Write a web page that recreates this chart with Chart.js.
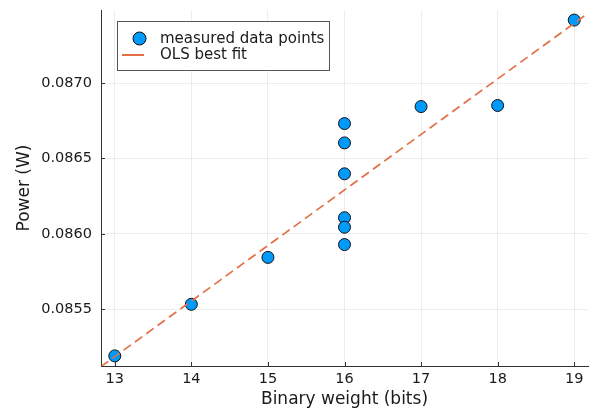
<!DOCTYPE html>
<html>
<head>
<meta charset="utf-8">
<script src="https://cdn.jsdelivr.net/npm/chart.js@4/dist/chart.umd.min.js"></script>
<style>
  html, body { margin: 0; padding: 0; background: #fff; }
  #wrap { width: 591px; height: 418px; }
</style>
</head>
<body>
<div id="wrap"><canvas id="c" width="591" height="418"></canvas></div>
<script>
// Measured power against binary weight
const bitWeights = [13, 14, 15, 16, 16, 16, 16, 16, 16, 17, 18, 19];
const powerWatts = [0.085191, 0.085533, 0.085844, 0.086731, 0.086603, 0.086398,
                    0.086107, 0.086044, 0.085929, 0.086844, 0.086851, 0.087417];

// Least-squares fit line, end points across the plotted x range
const fitX = [12.82, 19.18];
const fitY = [0.085120, 0.087462];

// Axis ranges and tick values
const xRange = [12.82, 19.18];
const yRange = [0.085124, 0.087484];
const xTicks = [13, 14, 15, 16, 17, 18, 19];
const yTicks = [0.0855, 0.0860, 0.0865, 0.0870];

const FONT = "'DejaVu Sans', sans-serif";
const TEXT = '#1a1a1a';
const AXIS = '#333333';
const BLUE = 'rgb(0,154,250)';
const ORANGE = 'rgb(227,111,71)';

// Short inward tick marks along the left and bottom axes
const innerTicks = {
  id: 'innerTicks',
  afterDraw(chart) {
    const { ctx, chartArea: a, scales: { x, y } } = chart;
    ctx.save();
    ctx.strokeStyle = AXIS;
    ctx.lineWidth = 1;
    ctx.beginPath();
    xTicks.forEach(v => {
      const px = Math.round(x.getPixelForValue(v)) + 0.5;
      ctx.moveTo(px, a.bottom);
      ctx.lineTo(px, a.bottom - 4);
    });
    yTicks.forEach(v => {
      const py = Math.round(y.getPixelForValue(v)) + 0.5;
      ctx.moveTo(a.left, py);
      ctx.lineTo(a.left + 4, py);
    });
    ctx.stroke();
    ctx.restore();
  }
};

// Framed legend in the upper-left corner of the plot area
const boxLegend = {
  id: 'boxLegend',
  afterDraw(chart) {
    const { ctx, chartArea: a } = chart;
    const ds = chart.data.datasets;
    const bx = a.left + 16.5, by = 21.5, bw = 212, bh = 49;
    ctx.save();
    ctx.fillStyle = '#ffffff';
    ctx.fillRect(bx, by, bw, bh);
    ctx.strokeStyle = '#555555';
    ctx.lineWidth = 1;
    ctx.strokeRect(bx, by, bw, bh);

    ctx.font = '15px ' + FONT;
    ctx.textBaseline = 'middle';
    ctx.textAlign = 'left';

    // scatter entry
    ctx.beginPath();
    ctx.arc(139.5, 38.5, 6.5, 0, Math.PI * 2);
    ctx.fillStyle = BLUE;
    ctx.fill();
    ctx.strokeStyle = '#111111';
    ctx.lineWidth = 1;
    ctx.stroke();
    ctx.fillStyle = TEXT;
    ctx.fillText(ds[1].label, 160, 39);

    // line entry
    ctx.beginPath();
    ctx.moveTo(122, 55);
    ctx.lineTo(144, 55);
    ctx.strokeStyle = ORANGE;
    ctx.lineWidth = 2;
    ctx.stroke();
    ctx.fillStyle = TEXT;
    ctx.fillText(ds[0].label, 160, 55);
    ctx.restore();
  }
};

new Chart(document.getElementById('c'), {
  type: 'scatter',
  data: {
    datasets: [
      {
        label: 'OLS best fit',
        type: 'line',
        data: fitX.map((v, i) => ({ x: v, y: fitY[i] })),
        borderColor: ORANGE,
        borderWidth: 1.7,
        borderDash: [9, 5],
        pointRadius: 0,
        fill: false,
        order: 0
      },
      {
        label: 'measured data points',
        data: bitWeights.map((v, i) => ({ x: v, y: powerWatts[i] })),
        backgroundColor: BLUE,
        borderColor: '#111111',
        borderWidth: 1,
        pointRadius: 6,
        order: 1
      }
    ]
  },
  options: {
    responsive: false,
    animation: false,
    devicePixelRatio: 1,
    layout: { autoPadding: false, padding: { top: 10, right: 3, left: 0, bottom: 0 } },
    plugins: {
      legend: { display: false },
      tooltip: { enabled: false }
    },
    scales: {
      x: {
        type: 'linear',
        min: xRange[0],
        max: xRange[1],
        afterBuildTicks: s => { s.ticks = xTicks.map(v => ({ value: v })); },
        afterFit: s => { s.height = 52; s.paddingLeft = 0; s.paddingRight = 0; },
        grid: { color: 'rgba(0,0,0,0.07)', drawTicks: false },
        border: { display: true, color: AXIS, width: 1 },
        ticks: {
          padding: 5,
          color: TEXT,
          font: { family: FONT, size: 14.5 },
          maxRotation: 0,
          callback: v => String(v)
        },
        title: {
          display: true,
          text: 'Binary weight (bits)',
          color: TEXT,
          font: { family: FONT, size: 17 },
          padding: { top: 0, bottom: 8 }
        }
      },
      y: {
        type: 'linear',
        min: yRange[0],
        max: yRange[1],
        afterBuildTicks: s => { s.ticks = yTicks.map(v => ({ value: v })); },
        afterFit: s => { s.width = 101; s.paddingTop = 0; s.paddingBottom = 0; },
        grid: { color: 'rgba(0,0,0,0.07)', drawTicks: false },
        border: { display: true, color: AXIS, width: 1 },
        ticks: {
          padding: 9,
          color: TEXT,
          font: { family: FONT, size: 14.5 },
          callback: v => v.toFixed(4)
        },
        title: {
          display: true,
          text: 'Power (W)',
          color: TEXT,
          font: { family: FONT, size: 17 },
          padding: { top: 14, bottom: 0 }
        }
      }
    }
  },
  plugins: [innerTicks, boxLegend]
});
</script>
</body>
</html>
